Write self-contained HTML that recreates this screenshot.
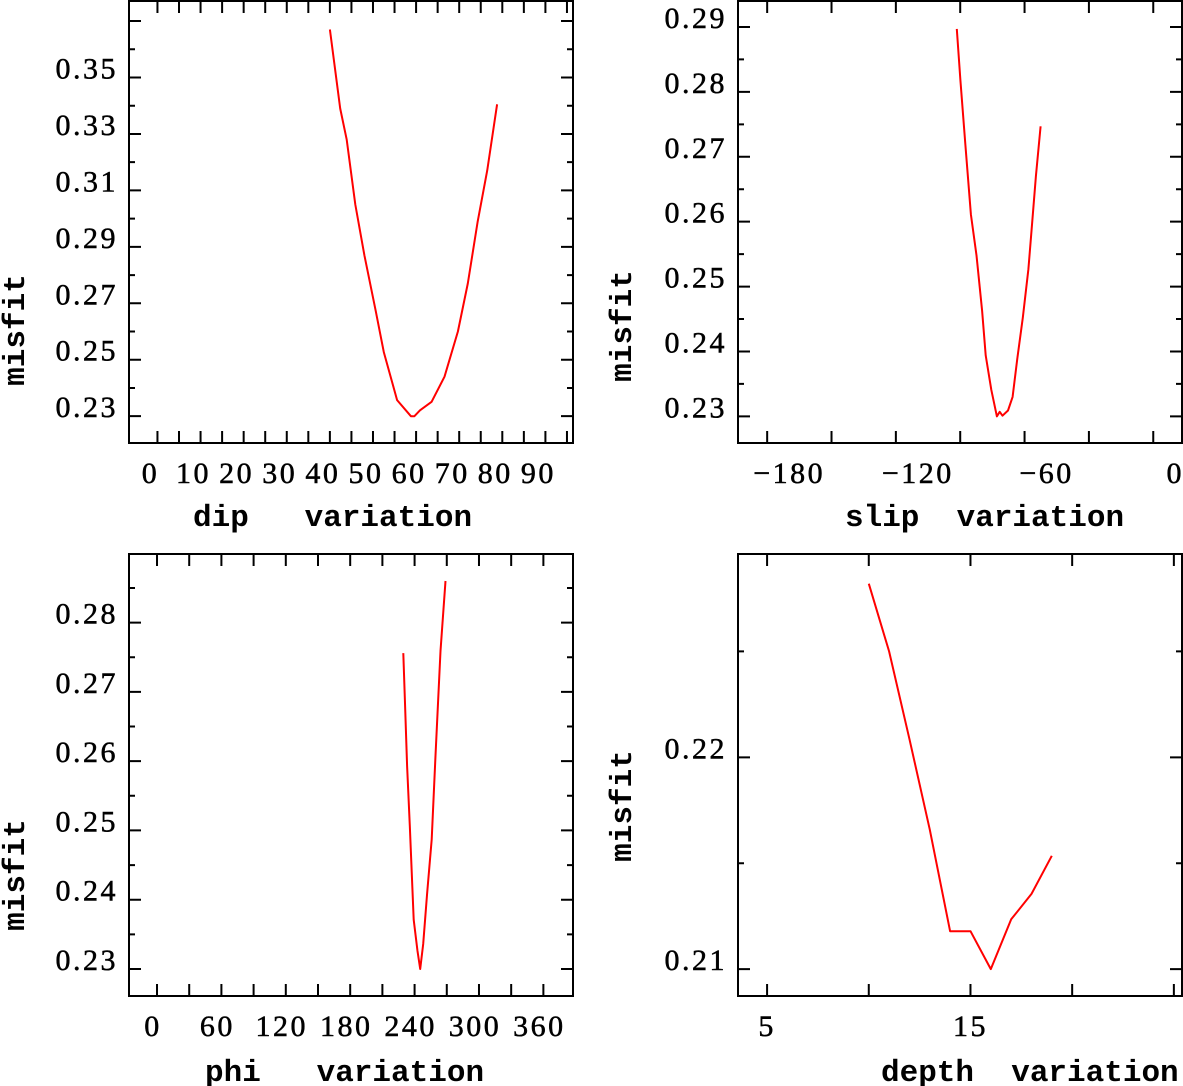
<!DOCTYPE html>
<html><head><meta charset="utf-8"><style>
html,body{margin:0;padding:0;background:#fff;}
svg{display:block;}
.tl{font-family:"Liberation Serif",serif;font-size:30px;letter-spacing:2.5px;fill:#000;stroke:#000;stroke-width:0.5px;}
.at{font-family:"Liberation Mono",monospace;font-weight:bold;font-size:31px;fill:#000;white-space:pre;}
</style></head><body>
<svg id="chart" width="1183" height="1086" viewBox="0 0 1183 1086" xmlns="http://www.w3.org/2000/svg"></svg>
<script>
// ---- dip panel data ----
const dipX = [40,42.4,43.9,45.9,48,50.6,52.5,55.6,58.8,59.6,60.9,63.6,66.6,69.7,72,74.3,76.5,78.8];
const dipY = [0.367,0.339,0.328,0.305,0.287,0.2675,0.2527,0.2357,0.230,0.230,0.2321,0.2351,0.244,0.260,0.277,0.299,0.317,0.3405];
const dipXTicks = [0,10,20,30,40,50,60,70,80,90];
const dipYTicks = [0.23,0.25,0.27,0.29,0.31,0.33,0.35];
// ---- slip panel data ----
const slipX = [-91.6,-89.9,-87.6,-85.0,-82.4,-79.8,-78.1,-75.5,-72.9,-71.6,-70.3,-67.7,-65.6,-63.4,-60.8,-58.2,-56.4,-54.7,-52.5];
const slipY = [0.2897,0.2818,0.2718,0.2611,0.2548,0.2463,0.2394,0.2341,0.230,0.2307,0.2301,0.2309,0.2330,0.2389,0.2452,0.2527,0.2601,0.2670,0.2747];
const slipXTicks = [-180,-120,-60,0];
const slipYTicks = [0.23,0.24,0.25,0.26,0.27,0.28,0.29];
// ---- phi panel data ----
const phiX = [229.5,231,233,235.5,237.4,239.2,242.7,245.2,248.0,251.6,255.9,259.5,264.1,268.8];
const phiY = [0.2756,0.2688,0.2593,0.2507,0.2437,0.2371,0.2326,0.230,0.2336,0.2407,0.2487,0.2608,0.2759,0.2860];
const phiXTicks = [0,60,120,180,240,300,360];
const phiYTicks = [0.23,0.24,0.25,0.26,0.27,0.28];
// ---- depth panel data ----
const depthX = [10,11,12,13,14,15,16,17,18,19];
const depthY = [0.2282,0.2250,0.22085,0.21658,0.21179,0.21179,0.21,0.21235,0.21355,0.21535];
const depthXTicks = [5,15];
const depthYTicks = [0.21,0.22];

const NS = "http://www.w3.org/2000/svg";
const svg = document.getElementById('chart');
function mk(tag, attrs, parent){
  const e = document.createElementNS(NS, tag);
  for (const k in attrs) e.setAttribute(k, attrs[k]);
  (parent||svg).appendChild(e);
  return e;
}

function panel(cfg){
  const g = mk('g', {});
  
  
  const L=cfg.L,R=cfg.R,T=cfg.T,B=cfg.B;
  const sx = v => L + (v - cfg.x0) / (cfg.x1 - cfg.x0) * (R - L);
  const sy = v => B - (v - cfg.y0) / (cfg.y1 - cfg.y0) * (B - T);
  const frame = mk('rect', {x:L,y:T,width:R-L,height:B-T,fill:'none',stroke:'#000','stroke-width':2}, g);
  
  
  for (let v = cfg.xtStart; v <= cfg.x1 + 1e-9; v += cfg.xtStep){
    const x = sx(v);
    if (x < L+1 || x > R-1) continue;
    const t = mk('path', {d:`M${x},${B}v-12M${x},${T}v12`, stroke:'#000','stroke-width':2}, g);
    
    
  }
  for (let v = cfg.ytStart; v <= cfg.y1 + 1e-9; v += cfg.ytStep){
    const y = sy(v);
    if (y < T+1 || y > B-1) continue;
    const idx = Math.round((v - cfg.ytStart)/cfg.ytStep);
    const len = idx % 2 === 0 ? 12 : 6;
    const t = mk('path', {d:`M${L},${y}h${len}M${R},${y}h${-len}`, stroke:'#000','stroke-width':2}, g);
    
    
  }
  cfg.xTicks.forEach(v => {
    const t = mk('text', {x:sx(v)+cfg.xlOff, y:cfg.xlY, 'text-anchor':'middle', class:'tl'}, g);
    t.textContent = (v < 0 ? '\u2212' + (-v) : String(v));
    
    
  });
  cfg.yTicks.forEach(v => {
    const t = mk('text', {x:L-11, y:sy(v)+1, 'text-anchor':'end', class:'tl'}, g);
    t.textContent = v.toFixed(cfg.yDec);
    
    
  });
  const d = cfg.xs.map((v,i) => (i?'L':'M') + sx(v).toFixed(1) + ',' + sy(cfg.ys[i]).toFixed(1)).join('');
  const line = mk('path', {d:d, fill:'none', stroke:'#ff0000','stroke-width':2,'stroke-linejoin':'round'}, g);
  
  
  const xt = mk('text', {x:cfg.xtX, y:cfg.xtY, class:'at'}, g);
  xt.textContent = cfg.xTitle;
  
  
  const yt = mk('text', {x:0, y:0, class:'at', 'text-anchor':'middle', transform:`translate(${cfg.ytX},${cfg.ytY}) rotate(-90)`}, g);
  yt.textContent = 'misfit';
  
  
}

panel({name:'dip',L:129,R:573,T:1,B:443,x0:-6.6,x1:96.4,y0:0.2205,y1:0.3771,
  xtStart:0,xtStep:5,ytStart:0.23,ytStep:0.01,xTicks:dipXTicks,yTicks:dipYTicks,yDec:2,
  xlOff:-7,xlY:483,xs:dipX,ys:dipY,xTitle:'dip   variation',xtX:193,xtY:526,ytX:24,ytY:330});
panel({name:'slip',L:738,R:1182,T:1,B:443,x0:-193.6,x1:13.4,y0:0.2259,y1:0.294,
  xtStart:-180,xtStep:30,ytStart:0.23,ytStep:0.005,xTicks:slipXTicks,yTicks:slipYTicks,yDec:2,
  xlOff:22,xlY:483,xs:slipX,ys:slipY,xTitle:'slip  variation',xtX:845,xtY:526,ytX:631,ytY:326});
panel({name:'phi',L:129,R:573,T:554,B:996,x0:-26.1,x1:387.6,y0:0.2261,y1:0.2899,
  xtStart:0,xtStep:30,ytStart:0.23,ytStep:0.005,xTicks:phiXTicks,yTicks:phiYTicks,yDec:2,
  xlOff:-4,xlY:1036,xs:phiX,ys:phiY,xTitle:'phi   variation',xtX:205,xtY:1081,ytX:24,ytY:875});
panel({name:'depth',L:738,R:1182,T:554,B:996,x0:3.57,x1:25.4,y0:0.20873,y1:0.2296,
  xtStart:5,xtStep:5,ytStart:0.21,ytStep:0.005,xTicks:depthXTicks,yTicks:depthYTicks,yDec:2,
  xlOff:0,xlY:1036,xs:depthX,ys:depthY,xTitle:'depth  variation',xtX:881,xtY:1081,ytX:631,ytY:806});
</script>
</body></html>
